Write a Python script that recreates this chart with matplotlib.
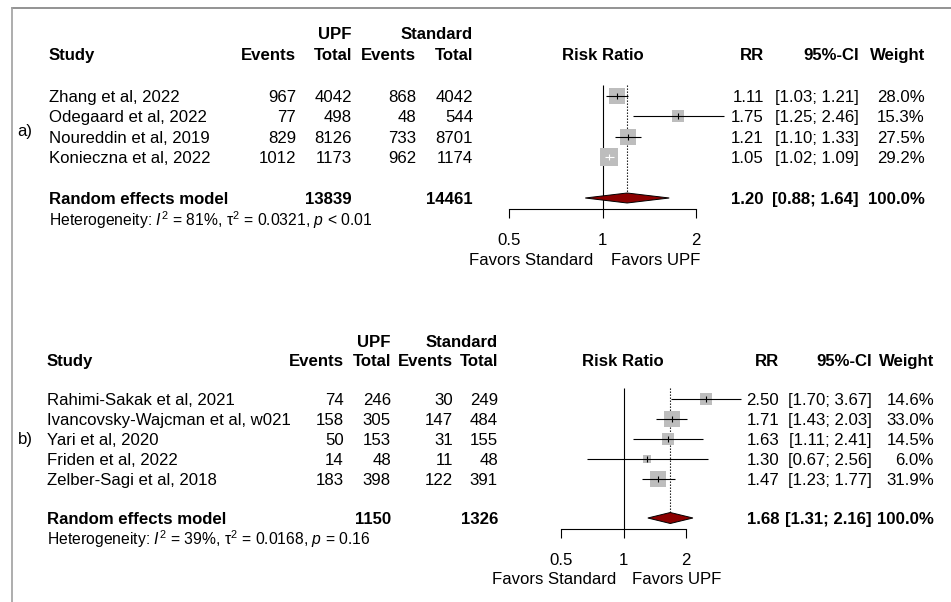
import matplotlib
matplotlib.use("Agg")
import matplotlib.pyplot as plt
import numpy as np
from matplotlib.patches import Polygon
from matplotlib.ticker import NullLocator
from matplotlib.transforms import offset_copy

plt.rcParams["font.family"] = ["Liberation Sans", "DejaVu Sans"]
plt.rcParams["mathtext.fontset"] = "custom"
plt.rcParams["mathtext.rm"] = "Liberation Sans"
plt.rcParams["mathtext.it"] = "Liberation Sans:italic"
plt.rcParams["mathtext.bf"] = "Liberation Sans:bold"

W, H = 951, 602

# ---- panel a) data
A_STUDIES = ["Zhang et al, 2022", "Odegaard et al, 2022",
             "Noureddin et al, 2019", "Konieczna et al, 2022"]
A_UPF_EVENTS = [967, 77, 829, 1012]
A_UPF_TOTAL = [4042, 498, 8126, 1173]
A_STD_EVENTS = [868, 48, 733, 962]
A_STD_TOTAL = [4042, 544, 8701, 1174]
A_RR = [1.11, 1.75, 1.21, 1.05]
A_LO = [1.03, 1.25, 1.10, 1.02]
A_HI = [1.21, 2.46, 1.33, 1.09]
A_WEIGHT = [28.0, 15.3, 27.5, 29.2]
A_POOLED = [1.20, 0.88, 1.64]
A_TOTALS = [13839, 14461]
A_HET = r"Heterogeneity: $I^2$ = 81%, τ$^2$ = 0.0321, $p$ < 0.01"

# ---- panel b) data
B_STUDIES = ["Rahimi-Sakak et al, 2021", "Ivancovsky-Wajcman et al, w021",
             "Yari et al, 2020", "Friden et al, 2022", "Zelber-Sagi et al, 2018"]
B_UPF_EVENTS = [74, 158, 50, 14, 183]
B_UPF_TOTAL = [246, 305, 153, 48, 398]
B_STD_EVENTS = [30, 147, 31, 11, 122]
B_STD_TOTAL = [249, 484, 155, 48, 391]
B_RR = [2.50, 1.71, 1.63, 1.30, 1.47]
B_LO = [1.70, 1.43, 1.11, 0.67, 1.23]
B_HI = [3.67, 2.03, 2.41, 2.56, 1.77]
B_WEIGHT = [14.6, 33.0, 14.5, 6.0, 31.9]
B_POOLED = [1.68, 1.31, 2.16]
B_TOTALS = [1150, 1326]
B_HET = r"Heterogeneity: $I^2$ = 39%, τ$^2$ = 0.0168, $p$ = 0.16"

TICKS = [0.5, 1, 2]
TICK_LABELS = ["0.5", "1", "2"]

BOX_GREY = "#bdbdbd"
DIAMOND_RED = "#8b0000"
FS = 12.1
DY = 1.5  # nudge table text onto the row baselines


def draw_panel(fig, bg, tag, studies, ue, ut, se, st, rr, lo, hi, wt,
               pooled, totals, het, lay):
    x = lay["x"]

    def txt(xx, yy, s, ha="right", bold=False, size=FS):
        bg.text(xx, yy + DY, s, ha=ha, va="center", fontsize=size,
                fontweight="bold" if bold else "normal")

    # headers
    txt(x["ut"] - 17, lay["h1"], "UPF", ha="center", bold=True)
    txt(x["st"], lay["h1"], "Standard", bold=True)
    hdr = [("Study", x["study"], "left"), ("Events", x["ue"], "right"),
           ("Total", x["ut"], "right"), ("Events", x["se"], "right"),
           ("Total", x["st"], "right"), ("RR", x["rr"], "right"),
           ("95%-CI", x["ci"], "right"), ("Weight", x["w"], "right")]
    for s, xx, ha in hdr:
        txt(xx, lay["h2"], s, ha=ha, bold=True)
    txt(lay["fx"], lay["h2"], "Risk Ratio", ha="center", bold=True)
    txt(lay["tag_x"], lay["tag_y"], tag, ha="left")

    rows = [lay["r0"] + i * lay["dr"] for i in range(len(studies))]
    for i, y in enumerate(rows):
        txt(x["study"], y, studies[i], ha="left")
        txt(x["ue"], y, f"{ue[i]}")
        txt(x["ut"], y, f"{ut[i]}")
        txt(x["se"], y, f"{se[i]}")
        txt(x["st"], y, f"{st[i]}")
        txt(x["rr"], y, f"{rr[i]:.2f}")
        txt(x["ci"], y, f"[{lo[i]:.2f}; {hi[i]:.2f}]")
        txt(x["w"], y, f"{wt[i]:.1f}%")

    yp = lay["pool"]
    txt(x["study"], yp, "Random effects model", ha="left", bold=True)
    txt(x["ut"], yp, f"{totals[0]}", bold=True)
    txt(x["st"], yp, f"{totals[1]}", bold=True)
    txt(x["rr"], yp, f"{pooled[0]:.2f}", bold=True)
    txt(x["ci"], yp, f"[{pooled[1]:.2f}; {pooled[2]:.2f}]", bold=True)
    txt(x["w"], yp, "100.0%", bold=True)
    txt(x["study"], lay["het"], het, ha="left", size=11.3)

    # forest area on a log risk-ratio scale
    xl, xr = lay["ax_x"]
    yt, yb = lay["ax_y"]
    ax = fig.add_axes([xl / W, 1 - yb / H, (xr - xl) / W, (yb - yt) / H])
    ax.set_xscale("log")
    ax.set_xlim(0.5, 2)
    ax.set_ylim(yb, yt)
    ax.patch.set_visible(False)
    for side in ("top", "left", "right"):
        ax.spines[side].set_visible(False)
    ax.spines["bottom"].set_position(("data", lay["axis"]))
    ax.spines["bottom"].set_linewidth(0.8)
    ax.yaxis.set_visible(False)
    ax.set_xticks(TICKS)
    ax.set_xticklabels(TICK_LABELS)
    ax.xaxis.set_minor_locator(NullLocator())
    ax.tick_params(axis="x", direction="out", length=6.5, width=0.8,
                   labelsize=FS, pad=11)

    top = rows[0] - lay["dr"] * 0.55
    ax.vlines(1, top, lay["axis"], color="black", lw=0.8)
    ax.vlines(pooled[0], top, yp - lay["dh"] / 2, color="black", lw=0.8,
              linestyles=(0, (1.2, 1.5)))

    px_per_log = (xr - xl) / np.log(4)
    for i, y in enumerate(rows):
        side = lay["k"] * np.sqrt(wt[i])
        ax.scatter([rr[i]], [y], marker="s", s=(side * 0.72) ** 2,
                   color=BOX_GREY, linewidths=0, zorder=2, clip_on=False)
        # CI fully hidden by the box -> draw it in white
        inside = (np.log(hi[i]) - np.log(lo[i])) * px_per_log < side
        lc = "white" if inside else "black"
        ax.hlines(y, lo[i], hi[i], color=lc, lw=0.8, zorder=3, clip_on=False)
        ax.vlines(rr[i], y - 3, y + 3, color=lc, lw=0.8, zorder=3,
                  clip_on=False)

    dh = lay["dh"]
    est, plo, phi = pooled
    ax.add_patch(Polygon([(plo, yp), (est, yp - dh / 2), (phi, yp),
                          (est, yp + dh / 2)], closed=True,
                         facecolor=DIAMOND_RED, edgecolor="black", lw=0.7,
                         zorder=3, clip_on=False))

    fy = lay["fav"]
    gl, gr = lay["gap"]
    ax.text(1, fy, "Favors Standard", ha="right", va="center", fontsize=FS,
            transform=offset_copy(ax.transData, fig, x=-gl * 0.72,
                                  units="points"))
    ax.text(1, fy, "Favors UPF", ha="left", va="center", fontsize=FS,
            transform=offset_copy(ax.transData, fig, x=gr * 0.72,
                                  units="points"))


fig = plt.figure(figsize=(W / 100, H / 100), dpi=100)
bg = fig.add_axes([0, 0, 1, 1])
bg.set_xlim(0, W)
bg.set_ylim(H, 0)
bg.axis("off")

# outer frame
bg.plot([12, W], [8, 8], color="#808080", lw=1.2)
bg.plot([12, 12], [8, H], color="#a0a0a0", lw=1.2)

LAY_A = dict(x=dict(study=49, ue=296, ut=352, se=416, st=473, rr=764,
                    ci=859, w=925),
             h1=33, h2=54, r0=96, dr=20.3, pool=198, het=219, axis=209,
             fav=261, fx=603, tag_x=17, tag_y=130, ax_x=(509, 696),
             ax_y=(10, 290), dh=10, k=3.15, gap=(9.5, 8.5))
LAY_B = dict(x=dict(study=47, ue=344, ut=391, se=453, st=498, rr=779,
                    ci=872, w=934),
             h1=341, h2=360, r0=399, dr=20, pool=518, het=538, axis=529,
             fav=580, fx=623, tag_x=18, tag_y=438, ax_x=(561, 686),
             ax_y=(310, 600), dh=11, k=2.95, gap=(7.5, 8.5))

draw_panel(fig, bg, "a)", A_STUDIES, A_UPF_EVENTS, A_UPF_TOTAL, A_STD_EVENTS,
           A_STD_TOTAL, A_RR, A_LO, A_HI, A_WEIGHT, A_POOLED, A_TOTALS,
           A_HET, LAY_A)
draw_panel(fig, bg, "b)", B_STUDIES, B_UPF_EVENTS, B_UPF_TOTAL, B_STD_EVENTS,
           B_STD_TOTAL, B_RR, B_LO, B_HI, B_WEIGHT, B_POOLED, B_TOTALS,
           B_HET, LAY_B)

fig.savefig("out.png", dpi=100)
